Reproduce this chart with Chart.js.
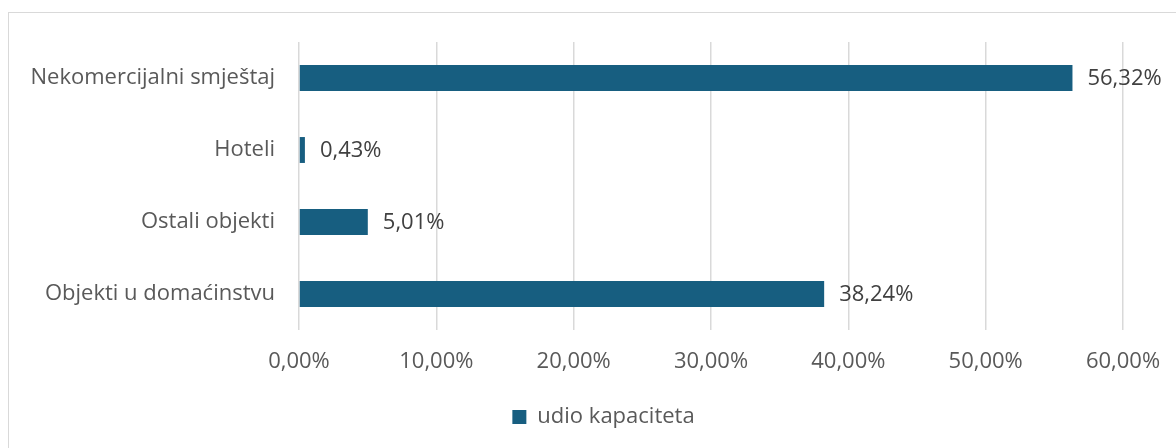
<!DOCTYPE html>
<html>
<head>
<meta charset="utf-8">
<script src="https://cdn.jsdelivr.net/npm/chart.js@4"></script>
<style>
  html, body { margin: 0; padding: 0; background: #fff; overflow: hidden; }
  #frame { position: absolute; left: 8px; top: 12px; width: 1180px; height: 460px; border: 1px solid #d9d9d9; box-sizing: border-box; }
  #wrap { position: absolute; left: 0; top: 0; width: 1176px; height: 448px; }
</style>
</head>
<body>
<div id="frame"></div>
<div id="wrap"><canvas id="c" width="1176" height="448"></canvas></div>
<script>
const categories = ['Nekomercijalni smještaj', 'Hoteli', 'Ostali objekti', 'Objekti u domaćinstvu'];
const values = [56.32, 0.43, 5.01, 38.24];
const seriesName = 'udio kapaciteta';
const xTicks = [0, 10, 20, 30, 40, 50, 60];

const fmt = v => v.toFixed(2).replace('.', ',') + '%';
const FONT = "'Open Sans', sans-serif";
const FS = 22;

const valueLabels = {
  id: 'valueLabels',
  afterLayout(chart) {
    if (chart.legend) {
      chart.legend.left += 42;
      chart.legend.right += 42;
    }
  },
  afterDatasetsDraw(chart) {
    const ctx = chart.ctx;
    const meta = chart.getDatasetMeta(0);
    ctx.save();
    ctx.font = FS + "px " + FONT;
    ctx.fillStyle = '#404040';
    ctx.textAlign = 'left';
    ctx.textBaseline = 'middle';
    meta.data.forEach((bar, i) => {
      ctx.fillText(fmt(values[i]), bar.x + 15, bar.y + 1);
    });
    ctx.restore();
  }
};

new Chart(document.getElementById('c'), {
  type: 'bar',
  data: {
    labels: categories,
    datasets: [{
      label: seriesName,
      data: values,
      backgroundColor: '#175e80',
      categoryPercentage: 1,
      barPercentage: 0.36
    }]
  },
  options: {
    indexAxis: 'y',
    responsive: false,
    animation: false,
    layout: { padding: { top: 42, right: 53, left: 0, bottom: 10 } },
    scales: {
      x: {
        min: 0, max: 60,
        afterBuildTicks(s) { s.ticks = xTicks.map(v => ({ value: v })); },
        afterFit(s) { s.height = 66; s.paddingLeft = 0; s.paddingRight = 0; },
        grid: { color: '#d9d9d9', lineWidth: 1.5, drawTicks: false },
        border: { display: false },
        ticks: {
          padding: 19,
          color: '#595959',
          font: { family: FONT, size: FS },
          callback: v => fmt(v)
        }
      },
      y: {
        afterFit(s) { s.width = 299; },
        grid: { display: false, drawTicks: false },
        border: { display: false },
        ticks: {
          padding: 24,
          color: '#595959',
          font: { family: FONT, size: FS }
        }
      }
    },
    plugins: {
      legend: {
        position: 'bottom',
        labels: {
          boxWidth: 14,
          boxHeight: 14,
          padding: 10,
          color: '#595959',
          font: { family: FONT, size: FS }
        }
      },
      tooltip: { enabled: false }
    }
  },
  plugins: [valueLabels]
});
</script>
</body>
</html>
